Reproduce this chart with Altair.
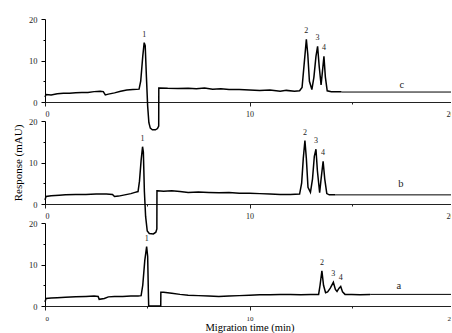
import altair as alt
import pandas as pd

FONT = "Liberation Serif"

# ---------------- trace c (top panel) ----------------
c_time = [0.0, 0.05, 0.3, 0.6, 0.9, 1.2, 1.5, 1.8, 2.1, 2.4, 2.7, 2.85, 2.95, 3.1, 3.4, 3.7, 4.0, 4.3, 4.6,
          4.68, 4.78, 4.85, 4.9, 4.96, 5.02, 5.08, 5.15, 5.25, 5.4, 5.5, 5.56, 5.565,
          5.6, 6.0, 6.5, 7.0, 7.4, 7.8, 8.2, 8.6, 9.0, 9.5, 10.0, 10.5, 11.0, 11.5, 11.8, 12.2, 12.45,
          12.57, 12.67, 12.78, 12.85, 12.93, 13.05, 13.15, 13.25, 13.33, 13.41, 13.5, 13.57, 13.64,
          13.71, 13.8, 14.0, 14.3, 14.5]
c_value = [1.2, 1.8, 1.7, 2.0, 2.1, 2.1, 2.2, 2.3, 2.3, 2.5, 2.6, 2.5, 1.7, 1.9, 2.2, 2.6, 2.9, 3.0, 3.1,
           5.0, 11.0, 14.3, 13.6, 6.0, -1.0, -5.0, -6.3, -6.7, -6.7, -6.4, -5.8, 3.4,
           3.4, 3.3, 3.25, 3.3, 3.2, 3.4, 3.1, 3.2, 3.0, 3.0, 2.9, 2.8, 2.9, 2.6, 2.8, 2.6, 2.7,
           3.5, 9.0, 15.1, 11.5, 5.0, 3.0, 6.0, 11.0, 13.4, 8.5, 4.1, 7.5, 11.0,
           6.0, 2.7, 2.5, 2.5, 2.5]
c_tail_time = [14.5, 20.0]
c_tail_value = [2.4, 2.4]
c_peak_time = [4.85, 12.78, 13.33, 13.64]
c_peak_value = [14.3, 15.1, 13.4, 11.0]
c_peak_label = ["1", "2", "3", "4"]

# ---------------- trace b (middle panel) ----------------
b_time = [0.0, 0.05, 0.3, 0.7, 1.0, 1.5, 2.0, 2.5, 3.0, 3.3, 3.4, 3.6, 3.9, 4.2, 4.4, 4.55,
          4.62, 4.7, 4.77, 4.81, 4.86, 4.92, 5.0, 5.1, 5.3, 5.42, 5.47, 5.475,
          5.5, 5.8, 6.2, 6.6, 7.0, 7.5, 8.0, 8.5, 9.0, 9.5, 10.0, 10.5, 11.0, 11.5, 12.0, 12.45,
          12.55, 12.63, 12.71, 12.78, 12.86, 12.98, 13.08, 13.17, 13.25, 13.32, 13.43, 13.5, 13.6,
          13.68, 13.78, 13.9, 14.2]
b_value = [1.0, 1.8, 2.0, 2.1, 2.2, 2.3, 2.3, 2.4, 2.4, 2.3, 1.8, 1.9, 2.2, 2.5, 2.8, 3.0,
           5.5, 10.5, 13.8, 12.5, 3.0, -3.0, -6.5, -7.1, -7.2, -6.8, -6.0, 3.2,
           3.2, 3.1, 3.2, 3.0, 2.8, 2.9, 2.8, 2.7, 2.8, 2.6, 2.6, 2.5, 2.4, 2.3, 2.3, 2.4,
           5.0, 11.0, 15.3, 11.0, 4.0, 2.8, 6.0, 11.5, 13.2, 8.0, 2.7, 6.0, 10.3,
           6.0, 2.5, 2.2, 2.2]
b_tail_time = [14.2, 20.0]
b_tail_value = [2.2, 2.2]
b_peak_time = [4.77, 12.71, 13.25, 13.6]
b_peak_value = [13.8, 15.3, 13.2, 10.3]
b_peak_label = ["1", "2", "3", "4"]

# ---------------- trace a (bottom panel) ----------------
a_time = [0.0, 0.05, 0.3, 0.6, 1.0, 1.5, 2.0, 2.4, 2.6, 2.65, 2.9, 3.1, 3.4, 3.8, 4.2, 4.55, 4.7,
          4.78, 4.88, 4.97, 5.02, 5.06, 5.07, 5.66, 5.665,
          5.8, 6.2, 6.6, 7.0, 7.5, 8.0, 8.5, 9.0, 9.5, 10.0, 10.5, 11.0, 11.5, 12.0, 12.5, 13.0, 13.38,
          13.45, 13.54, 13.62, 13.72, 13.82, 13.95, 14.1, 14.2, 14.28, 14.38, 14.46, 14.55, 14.67,
          15.0, 15.4, 15.9]
a_value = [1.0, 1.8, 1.9, 2.0, 2.1, 2.2, 2.3, 2.4, 2.3, 1.6, 1.8, 2.2, 2.3, 2.3, 2.4, 2.4, 2.5,
           5.0, 11.0, 14.3, 12.0, 2.0, 0.0, 0.0, 3.3,
           3.3, 3.1, 2.8, 2.6, 2.5, 2.4, 2.3, 2.4, 2.5, 2.6, 2.7, 2.7, 2.8, 2.8, 2.7, 2.8, 2.8,
           5.0, 8.5, 5.0, 3.2, 3.4, 4.3, 5.7, 4.0, 3.5, 4.3, 4.7, 3.4, 2.8,
           2.8, 2.7, 2.8]
a_tail_time = [15.9, 20.0]
a_tail_value = [2.8, 2.8]
a_peak_time = [4.97, 13.54, 14.1, 14.46]
a_peak_value = [14.3, 8.5, 5.7, 4.7]
a_peak_label = ["1", "2", "3", "4"]

trace_names = ["c", "b", "a"]
trace_name_time = [17.45, 17.4, 17.3]
trace_name_value = [4.1, 4.9, 4.7]

x_ticks = [0, 5, 10, 15, 20]
y_ticks = [0, 5, 10, 15, 20]

TICK = {"condition": {"test": "datum.value % 10 === 0", "value": 4}, "value": 2}
LABEL_EXPR = "datum.value % 10 === 0 ? datum.label : ''"


def panel(times, values, tail_t, tail_v, pk_t, pk_v, pk_lab, name, name_t, name_v,
          xtitle, ytitle, xlab_size):
    df = pd.DataFrame({"t": times, "v": values, "i": list(range(len(times)))})
    tail = pd.DataFrame({"t": tail_t, "v": tail_v})
    peaks = pd.DataFrame({"t": pk_t, "v": pk_v, "lab": pk_lab})
    nm = pd.DataFrame({"t": [name_t], "v": [name_v], "lab": [name]})

    xs = alt.Scale(domain=[0, 20], nice=False, zero=False)
    ys = alt.Scale(domain=[0, 20], nice=False, zero=False)

    xaxis = alt.Axis(title=xtitle, values=x_ticks, labelExpr=LABEL_EXPR, tickSize=TICK, grid=False,
                     labelFont=FONT, labelFontSize=xlab_size, labelPadding=4,
                     domainColor="#222", tickColor="#222", labelColor="#222",
                     titleFont=FONT, titleFontSize=10.5, titleFontWeight="normal",
                     titlePadding=1, titleColor="black", labelAngle=0)
    yaxis = alt.Axis(title=ytitle, values=y_ticks, labelExpr=LABEL_EXPR, tickSize=TICK, grid=False,
                     labelFont=FONT, labelFontSize=8.5, labelPadding=4,
                     domainColor="black", tickColor="black", labelColor="#222",
                     titleFont=FONT, titleFontSize=11, titleFontWeight="normal",
                     titlePadding=5, titleColor="black")

    X = alt.X("t:Q", scale=xs, axis=xaxis)
    Y = alt.Y("v:Q", scale=ys, axis=yaxis)

    line = alt.Chart(df).mark_line(color="black", strokeWidth=1.5, clip=False).encode(
        x=X, y=Y, order="i:Q",
    )
    tl = alt.Chart(tail).mark_line(color="black", strokeWidth=1, clip=False).encode(x=X, y=Y)
    pt = alt.Chart(peaks).mark_text(font=FONT, fontSize=8, dy=-8, baseline="middle",
                                    color="#222").encode(x=X, y=Y, text="lab:N")
    nt = alt.Chart(nm).mark_text(font=FONT, fontSize=10.5, baseline="middle",
                                 color="#222").encode(x=X, y=Y, text="lab:N")
    return alt.layer(line, tl, pt, nt).properties(width=409, height=83)


pc = panel(c_time, c_value, c_tail_time, c_tail_value, c_peak_time, c_peak_value, c_peak_label,
           trace_names[0], trace_name_time[0], trace_name_value[0], "", "", 8)
pb = panel(b_time, b_value, b_tail_time, b_tail_value, b_peak_time, b_peak_value, b_peak_label,
           trace_names[1], trace_name_time[1], trace_name_value[1], "", "Response (mAU)", 8)
pa = panel(a_time, a_value, a_tail_time, a_tail_value, a_peak_time, a_peak_value, a_peak_label,
           trace_names[2], trace_name_time[2], trace_name_value[2], "Migration time (min)", "", 7)

chart = alt.vconcat(pc, pb, pa, spacing=19, bounds="flush").properties(
    padding={"left": 12, "top": 15, "right": -5, "bottom": 0},
    background="white",
).configure_view(strokeWidth=0)

chart.save("out.html", embed_options={"renderer": "svg", "actions": False})
